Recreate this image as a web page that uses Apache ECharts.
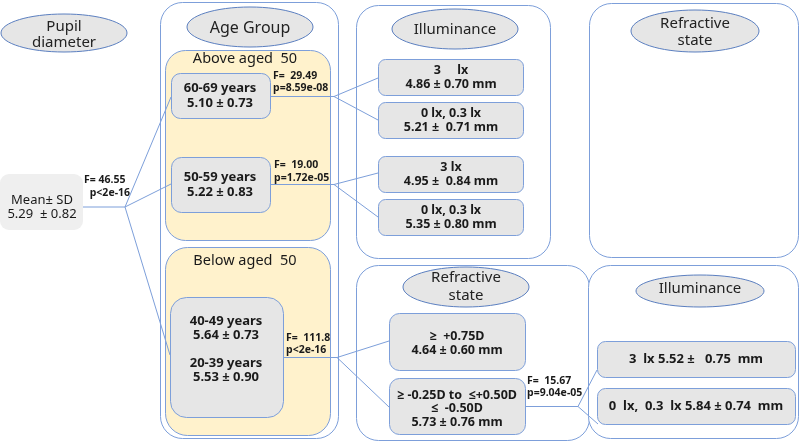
<!DOCTYPE html>
<html>
<head>
<meta charset="utf-8">
<script src="https://cdn.jsdelivr.net/npm/echarts@6/dist/echarts.min.js"></script>
<style>html,body{margin:0;padding:0;background:#fff;}#c{width:800px;height:443px;}</style>
</head>
<body>
<div id="c"></div>
<script>
// ---- data ----
const rootTitle = 'Pupil\ndiameter';
const rootStat = ['Mean\u00b1 SD', '5.29  \u00b1 0.82'];
const rootTest = ['F= 46.55', ' p<2e-16'];
const ageTitle = 'Age Group';
const ageGroupLabels = ['Above aged  50', 'Below aged  50'];
const ageCats = ['60-69 years', '50-59 years', '40-49 years', '20-39 years'];
const ageMeans = ['5.10', '5.22', '5.64', '5.53'];
const ageSDs = ['0.73', '0.83', '0.73', '0.90'];
const ageTests = [['F=  29.49', 'p=8.59e-08'], ['F=  19.00', 'p=1.72e-05'], ['F=  111.8', 'p<2e-16']];
const illumTitle = 'Illuminance';
const illumCats = ['3     lx', '0 lx, 0.3 lx', '3 lx', '0 lx, 0.3 lx'];
const illumVals = ['4.86 \u00b1 0.70 mm', '5.21 \u00b1  0.71 mm', '4.95 \u00b1  0.84 mm', '5.35 \u00b1 0.80 mm'];
const refrTitle = 'Refractive\nstate';
const refrCats = ['\u2265  +0.75D', '\u2265 -0.25D to  \u2264+0.50D\n\u2264  -0.50D'];
const refrVals = ['4.64 \u00b1 0.60 mm', '5.73 \u00b1 0.76 mm'];
const refrTest = ['F=  15.67', 'p=9.04e-05'];
const illum2Cats = ['3  lx', '0  lx,  0.3  lx'];
const illum2Vals = ['5.52 \u00b1   0.75  mm', '5.84 \u00b1 0.74  mm'];

// ---- styles ----
const BLUE = '#7d9fda';
const GRAY = '#e6e6e6';
const YEL = '#fff2cc';
const FF = "'Noto Sans', 'Open Sans', sans-serif";
const els = [];
let zc = 0;
function rect(x, y, w, h, r, fill, stroke) {
  els.push({type: 'rect', z: ++zc, shape: {x, y, width: w, height: h, r},
    style: {fill: fill || 'none', stroke: stroke || null, lineWidth: 1}});
}
function ell(cx, cy, rx, ry, txt, ty, lh, fs) {
  els.push({type: 'ellipse', z: ++zc, shape: {cx, cy, rx, ry}, style: {fill: GRAY, stroke: '#5b7fc0', lineWidth: 1}});
  els.push({type: 'text', z: ++zc, style: {text: txt, x: cx, y: ty, align: 'center', verticalAlign: 'middle',
    fontFamily: FF, fontSize: fs || 15, lineHeight: lh || 18, fill: '#222'}});
}
function txt(x, y, s, o) {
  o = o || {};
  els.push({type: 'text', z: ++zc, style: {text: s, x, y, align: o.align || 'center', verticalAlign: 'middle',
    fontFamily: FF, fontSize: o.fs || 13, fontWeight: o.bold ? 'bold' : 'normal', lineHeight: o.lh || 15, fill: o.fill || '#1a1a1a'}});
}
function line(pts) {
  els.push({type: 'polyline', z: ++zc, shape: {points: pts}, style: {stroke: BLUE, lineWidth: 1, fill: null}});
}

// outer panels
rect(160.5, 2.5, 178, 436, 22, '#fff', BLUE);
rect(356.5, 5.5, 194, 253, 22, '#fff', BLUE);
rect(589.5, 3.5, 209, 254, 22, '#fff', BLUE);
rect(356.5, 265.5, 233, 175, 22, '#fff', BLUE);
rect(588.5, 265.5, 210, 173, 22, '#fff', BLUE);
rect(165.5, 50.5, 165, 190, 20, YEL, BLUE);
rect(165.5, 247.5, 165, 188, 22, YEL, BLUE);

// titles
ell(64, 33, 63, 19, rootTitle, 35, 16, 15);
ell(250, 27, 63, 20, ageTitle, 28, 18, 16);
ell(455, 29, 63, 20, illumTitle, 30, 18, 15);
ell(695, 31, 64, 21, refrTitle, 32, 17, 15);
ell(466, 287, 63, 20, refrTitle, 287, 18, 15);
ell(700, 291, 64, 16, illumTitle, 289, 18, 15);
txt(245, 59, ageGroupLabels[0], {fs: 14.5});
txt(245, 261, ageGroupLabels[1], {fs: 14.5});

// root
rect(0, 174, 83, 56, 9, '#efefef', null);
txt(42, 207, rootStat.join('\n'), {fs: 13, lh: 14});
txt(84, 180, rootTest[0], {align: 'left', bold: true, fs: 10.5});
txt(87, 193, rootTest[1], {align: 'left', bold: true, fs: 10.5});

// connectors
line([[83, 207], [125, 207]]);
line([[125, 207], [171, 97]]);
line([[125, 207], [171, 184]]);
line([[125, 207], [170, 355]]);
line([[270, 96.5], [334, 96.5]]);
line([[334, 96.5], [378, 78]]);
line([[334, 96.5], [378, 120]]);
line([[270, 184.5], [334, 184.5]]);
line([[334, 184.5], [378, 173]]);
line([[334, 184.5], [378, 217]]);
line([[283, 357.5], [337, 357.5]]);
line([[337, 357.5], [389, 341]]);
line([[337, 357.5], [389, 407]]);
line([[525, 406.5], [578, 406.5]]);
line([[578, 406.5], [597, 370]]);
line([[578, 406.5], [598, 424]]);

// age boxes
rect(171.5, 73.5, 99, 45, 9, GRAY, BLUE);
txt(220, 96, ageCats[0] + '\n' + ageMeans[0] + ' \u00b1 ' + ageSDs[0], {bold: true, lh: 15});
rect(171.5, 157.5, 99, 55, 10, GRAY, BLUE);
txt(220, 184.5, ageCats[1] + '\n' + ageMeans[1] + ' \u00b1 ' + ageSDs[1], {bold: true, lh: 15});
rect(170.5, 297.5, 113, 120, 16, GRAY, BLUE);
txt(226, 328, ageCats[2] + '\n' + ageMeans[2] + ' \u00b1 ' + ageSDs[2], {bold: true, lh: 14});
txt(226, 370.5, ageCats[3] + '\n' + ageMeans[3] + ' \u00b1 ' + ageSDs[3], {bold: true, lh: 14});
txt(273, 76, ageTests[0][0], {align: 'left', bold: true, fs: 10.5});
txt(273, 88, ageTests[0][1], {align: 'left', bold: true, fs: 10.5});
txt(274, 165, ageTests[1][0], {align: 'left', bold: true, fs: 10.5});
txt(274, 178, ageTests[1][1], {align: 'left', bold: true, fs: 10.5});
txt(286, 338, ageTests[2][0], {align: 'left', bold: true, fs: 10.5});
txt(286, 350, ageTests[2][1], {align: 'left', bold: true, fs: 10.5});

// illuminance boxes
const illY = [59, 102, 156, 199];
illY.forEach((y, i) => {
  rect(378.5, y + 0.5, 145, 36, 7, GRAY, BLUE);
  txt(451, y + 18, illumCats[i] + '\n' + illumVals[i], {bold: true, lh: 14, fs: 12.5});
});

// refractive boxes
rect(389.5, 313.5, 136, 57, 10, GRAY, BLUE);
txt(457, 343, refrCats[0] + '\n' + refrVals[0], {bold: true, lh: 14, fs: 12.5});
rect(389.5, 378.5, 136, 56, 10, GRAY, BLUE);
txt(457, 408.5, refrCats[1] + '\n' + refrVals[1], {bold: true, lh: 13.5, fs: 12.5});
txt(527, 381, refrTest[0], {align: 'left', bold: true, fs: 10.5});
txt(527, 393, refrTest[1], {align: 'left', bold: true, fs: 10.5});

// illuminance (refractive) boxes
rect(597.5, 341.5, 198, 36, 8, GRAY, BLUE);
txt(696, 359.5, illum2Cats[0] + ' ' + illum2Vals[0], {bold: true, fs: 13});
rect(597.5, 388.5, 198, 36, 8, GRAY, BLUE);
txt(696, 406.5, illum2Cats[1] + ' ' + illum2Vals[1], {bold: true, fs: 13});

const chart = echarts.init(document.getElementById('c'), null, {renderer: 'canvas'});
chart.setOption({backgroundColor: '#fff', animation: false, graphic: {elements: els}});
</script>
</body>
</html>
